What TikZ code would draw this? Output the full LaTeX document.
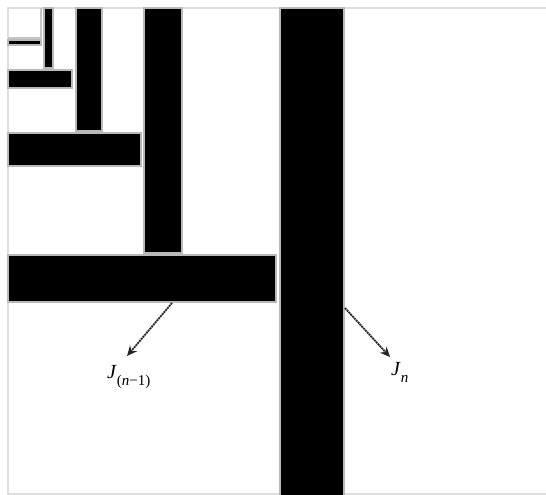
\documentclass[tikz,border=0pt]{standalone}
\usepackage{fontspec}
\setmainfont{Liberation Serif}
\usetikzlibrary{arrows.meta}
\begin{document}
\begin{tikzpicture}[x=1pt,y=-1pt,
  bar/.style={fill=black,draw=gray!55,line width=1.2pt},
  frameline/.style={draw=gray!25,line width=1.5pt},
  pointer/.style={draw=gray!30!black,line width=1.8pt,dash pattern=on 2pt off 0.7pt},
  lbl/.style={font=\fontsize{20}{24}\selectfont,inner sep=0pt,anchor=west}]
\useasboundingbox (0,0) rectangle (546,495);
\fill[white] (0,0) rectangle (546,495);
\begin{scope}
\clip (0,0) rectangle (546,495);
% frame
\draw[frameline] (546,8) -- (8,8) -- (8,494) -- (546,494);
% bars
\path[bar] (280,8) rectangle (344,500);
\path[bar] (8,255) rectangle (276,302);
\path[bar] (144,8) rectangle (182,253);
\path[bar] (8,133) rectangle (141,166);
\path[bar] (76,8) rectangle (102,131);
\path[bar] (8,70) rectangle (72,88);
\path[bar] (44,8) rectangle (53,68);
\path[bar] (8,40) rectangle (41,45);
\draw[draw=gray!45,line width=1.2pt] (8,38) -- (41,38) -- (41,8);
\end{scope}
% labels
\node[lbl] (jnm1) at (107,377) {\textit{J}\raisebox{-0.35em}{\fontsize{15}{15}\selectfont(\textit{n}−1)}};
\node[lbl] (jn) at (391,372) {\textit{J}\raisebox{-0.35em}{\fontsize{15}{15}\selectfont\textit{n}}};
\coordinate (s1) at (172,303);
\coordinate (e1) at (127,356);
\coordinate (s2) at (345,308);
\coordinate (e2) at (390,357);
\draw[pointer,-{Stealth[length=10pt,width=9pt]}] (s1) -- (e1);
\draw[pointer,-{Stealth[open,length=10pt,width=9pt]}] (s2) -- (e2);
\end{tikzpicture}
\end{document}
